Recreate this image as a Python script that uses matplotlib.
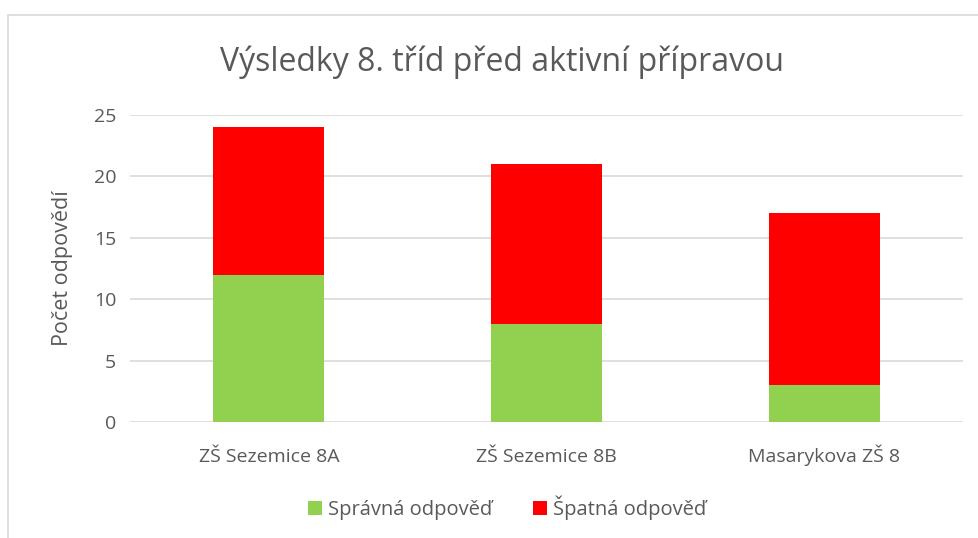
import matplotlib
matplotlib.use("Agg")
from matplotlib import pyplot as plt
from matplotlib import transforms
from matplotlib.patches import Rectangle

# chart data
categories = ["ZŠ Sezemice 8A", "ZŠ Sezemice 8B", "Masarykova ZŠ 8"]
spravne = [12, 8, 3]
spatne = [12, 13, 14]
series_names = ["Správná odpověď", "Špatná odpověď"]

GREEN = "#92d050"
RED = "#ff0000"
TEXT = "#595959"
GRID = "#d9d9d9"

plt.rcParams["font.family"] = ["Open Sans", "DejaVu Sans"]

fig = plt.figure(figsize=(9.79, 5.38), dpi=100)

# outer chart frame (partly cut off at right and bottom)
fig.patches.append(Rectangle((8 / 979, -0.05), 1.0, 1 - 15 / 538 + 0.05,
                             transform=fig.transFigure, fill=False,
                             edgecolor=GRID, linewidth=1.2))

ax = fig.add_axes([130 / 979, 1 - 422 / 538, 833 / 979, 307 / 538])
x = list(range(len(categories)))
ax.bar(x, spravne, width=0.4, color=GREEN, label=series_names[0], zorder=3)
ax.bar(x, spatne, width=0.4, bottom=spravne, color=RED, label=series_names[1], zorder=3)

ax.set_xlim(-0.5, 2.5)
ax.set_ylim(0, 25)
ax.set_yticks(range(0, 26, 5))
ax.set_xticks(x)
ax.set_xticklabels([])
ax.grid(axis="y", color=GRID, linewidth=1.2, zorder=0)
for s in ax.spines.values():
    s.set_visible(False)
ax.tick_params(length=0, labelsize=14, colors=TEXT, pad=10)

# category labels on a common baseline
trans = transforms.blended_transform_factory(ax.transData, fig.transFigure)
for xi, name in zip(x, categories):
    ax.text(xi, 1 - 462 / 538, name, transform=trans, ha="center",
            va="baseline", fontsize=14, color=TEXT)

ax.set_ylabel("Počet odpovědí", fontsize=15.5, color=TEXT)
ax.yaxis.set_label_coords(-0.068, 0.5)

fig.text(502 / 979, 1 - 62 / 538, "Výsledky 8. tříd před aktivní přípravou",
         ha="center", va="center", fontsize=23, color=TEXT)

fig.legend(loc="center", bbox_to_anchor=(507 / 979, 1 - 508 / 538), ncol=2,
           frameon=False, fontsize=14.5, labelcolor=TEXT, handlelength=0.7,
           handleheight=0.7, handletextpad=0.3, columnspacing=2.0)

fig.savefig("out.png", dpi=100, facecolor="white")
